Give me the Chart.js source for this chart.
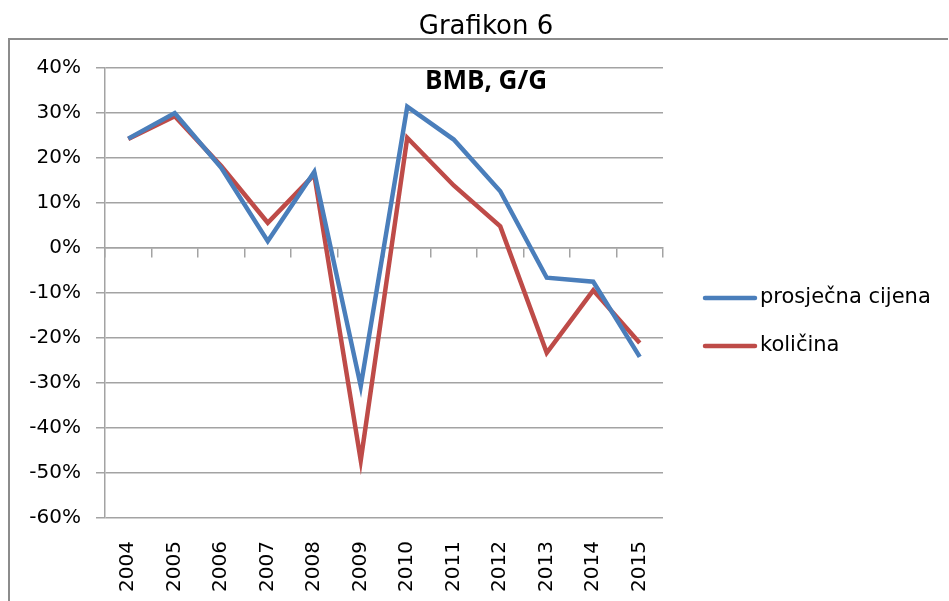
<!DOCTYPE html>
<html>
<head>
<meta charset="utf-8">
<script src="https://cdn.jsdelivr.net/npm/chart.js@4"></script>
<style>
  html, body { margin: 0; padding: 0; background: #fff; }
  #wrap { width: 949px; height: 601px; position: relative; }
</style>
</head>
<body>
<div id="wrap"><canvas id="grafikon"></canvas></div>
<script>
// --- Podaci ---
const years = ["2004", "2005", "2006", "2007", "2008", "2009", "2010", "2011", "2012", "2013", "2014", "2015"];
const prosjecnaCijena = [24.3, 30.0, 17.8, 1.5, 16.9, -30.7, 31.4, 24.1, 12.6, -6.6, -7.5, -24.2];
const kolicina = [24.2, 29.3, 18.2, 5.6, 16.3, -47.2, 24.5, 13.9, 4.8, -23.3, -9.4, -21.1];
const seriesNames = ["prosječna cijena", "količina"];
const yTicks = [40, 30, 20, 10, 0, -10, -20, -30, -40, -50, -60];
const chartTitle = "Grafikon 6";
const innerLabel = "BMB, G/G";

const BLUE = '#4a7ebb';
const RED = '#be4b48';
const GRID = '#a3a3a3';
const FONT = "'DejaVu Sans', Verdana, sans-serif";

// okvir, naslov, natpis i legenda
const decorations = {
    id: 'decorations',
    afterDraw(chart) {
        const ctx = chart.ctx;
        const area = chart.chartArea;
        ctx.save();

        // okvir oko grafikona
        ctx.strokeStyle = '#8c8c8c';
        ctx.lineWidth = 2;
        ctx.beginPath();
        ctx.moveTo(9, 640);
        ctx.lineTo(9, 39);
        ctx.lineTo(948, 39);
        ctx.stroke();

        // naslov
        ctx.fillStyle = '#000';
        ctx.textAlign = 'center';
        ctx.textBaseline = 'alphabetic';
        ctx.font = "26px " + FONT;
        ctx.fillText(chartTitle, 486, 34);

        // natpis u grafikonu
        ctx.font = "bold 26px 'Open Sans', sans-serif";
        ctx.textBaseline = 'middle';
        ctx.fillText(innerLabel, 486, 82);

        // legenda
        ctx.font = "21px " + FONT;
        ctx.textAlign = 'left';
        chart.data.datasets.forEach((ds, i) => {
            const y = 298 + i * 48;
            ctx.strokeStyle = ds.borderColor;
            ctx.lineWidth = 4.5;
            ctx.lineCap = 'round';
            ctx.beginPath();
            ctx.moveTo(705, y);
            ctx.lineTo(755, y);
            ctx.stroke();
            ctx.fillStyle = '#000';
            ctx.fillText(ds.label, 760, y);
        });
        ctx.restore();
    }
};

new Chart(document.getElementById('grafikon'), {
    type: 'line',
    data: {
        labels: years,
        datasets: [
            {
                label: seriesNames[0],
                data: prosjecnaCijena,
                borderColor: BLUE,
                backgroundColor: BLUE,
                borderWidth: 4.5,
                pointRadius: 0,
                tension: 0,
                fill: false
            },
            {
                label: seriesNames[1],
                data: kolicina,
                borderColor: RED,
                backgroundColor: RED,
                borderWidth: 4.5,
                pointRadius: 0,
                tension: 0,
                fill: false
            }
        ]
    },
    options: {
        responsive: true,
        maintainAspectRatio: false,
        animation: false,
        devicePixelRatio: 1,
        layout: { padding: { top: 68, right: 286, left: 0, bottom: 0 } },
        scales: {
            y: {
                min: -60,
                max: 40,
                afterFit(scale) { scale.width = 105; },
                afterBuildTicks(scale) { scale.ticks = yTicks.map(v => ({ value: v })); },
                ticks: {
                    callback: v => v + '%',
                    color: '#000',
                    padding: 15,
                    font: { family: FONT, size: 20 }
                },
                grid: { color: GRID, lineWidth: 1.5, tickLength: 9 },
                border: { color: GRID, width: 1.5 }
            },
            x: {
                offset: true,
                afterFit(scale) { scale.height = 83; },
                ticks: {
                    minRotation: 90,
                    maxRotation: 90,
                    color: '#000',
                    padding: 15,
                    font: { family: FONT, size: 20 }
                },
                grid: { display: false },
                border: { display: false }
            },
            xNula: {
                type: 'category',
                position: { y: 0 },
                offset: true,
                ticks: { display: false },
                grid: {
                    offset: true,
                    drawOnChartArea: false,
                    drawTicks: true,
                    tickLength: 9,
                    color: GRID,
                    lineWidth: 1.5
                },
                border: { color: GRID, width: 1.5 }
            }
        },
        plugins: {
            legend: { display: false },
            title: { display: false },
            tooltip: { enabled: false }
        }
    },
    plugins: [decorations]
});
</script>
</body>
</html>
